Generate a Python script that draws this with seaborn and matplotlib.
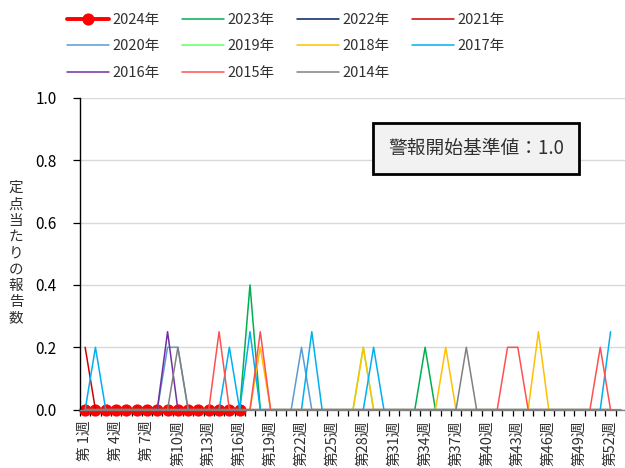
import matplotlib
matplotlib.use("Agg")
import matplotlib.pyplot as plt
from matplotlib.ticker import FixedLocator, FormatStrFormatter
import seaborn as sns
import pandas as pd

# Weekly reports per sentinel site, by year (weeks 1-53)
weeks = list(range(1, 54))
years = ["2024年", "2023年", "2022年", "2021年", "2020年", "2019年",
         "2018年", "2017年", "2016年", "2015年", "2014年"]

y2024 = [0, 0, 0, 0, 0, 0, 0, 0, 0, 0, 0, 0, 0,
         0, 0, 0]
y2023 = [0, 0, 0, 0, 0, 0, 0, 0, 0, 0, 0, 0, 0,
         0, 0, 0, 0.4, 0, 0, 0, 0, 0, 0, 0, 0, 0,
         0, 0, 0, 0, 0, 0, 0, 0.2, 0, 0, 0, 0, 0,
         0, 0, 0, 0, 0, 0, 0, 0, 0, 0, 0, 0, 0]
y2022 = [0, 0, 0, 0, 0, 0, 0, 0, 0, 0, 0, 0, 0,
         0, 0, 0, 0, 0, 0, 0, 0, 0, 0, 0, 0, 0,
         0, 0, 0, 0, 0, 0, 0, 0, 0, 0, 0, 0, 0,
         0, 0, 0, 0, 0, 0, 0, 0, 0, 0, 0, 0, 0]
y2021 = [0.2, 0, 0, 0, 0, 0, 0, 0, 0, 0, 0, 0, 0,
         0, 0, 0, 0, 0, 0, 0, 0, 0, 0, 0, 0, 0,
         0, 0, 0, 0, 0, 0, 0, 0, 0, 0, 0, 0, 0,
         0, 0, 0, 0, 0, 0, 0, 0, 0, 0, 0, 0, 0]
y2020 = [0, 0, 0, 0, 0, 0, 0, 0, 0.2, 0.2, 0, 0, 0,
         0, 0, 0, 0, 0, 0, 0, 0, 0.2, 0, 0, 0, 0,
         0, 0, 0, 0, 0, 0, 0, 0, 0, 0, 0, 0, 0,
         0, 0, 0, 0, 0, 0, 0, 0, 0, 0, 0, 0, 0,
         0]
y2019 = [0, 0, 0, 0, 0, 0, 0, 0, 0, 0, 0, 0, 0,
         0, 0, 0, 0, 0, 0, 0, 0, 0, 0, 0, 0, 0,
         0, 0.2, 0, 0, 0, 0, 0, 0, 0, 0, 0, 0, 0,
         0, 0, 0, 0, 0, 0, 0, 0, 0, 0, 0, 0, 0]
y2018 = [0, 0, 0, 0, 0, 0, 0, 0, 0, 0, 0, 0, 0,
         0, 0, 0, 0, 0.2, 0, 0, 0, 0, 0, 0, 0, 0,
         0, 0.2, 0, 0, 0, 0, 0, 0, 0, 0.2, 0, 0, 0,
         0, 0, 0, 0, 0, 0.25, 0, 0, 0, 0, 0, 0, 0]
y2017 = [0, 0.2, 0, 0, 0, 0, 0, 0, 0, 0, 0, 0, 0,
         0, 0.2, 0, 0.25, 0, 0, 0, 0, 0, 0.25, 0, 0, 0,
         0, 0, 0.2, 0, 0, 0, 0, 0, 0, 0, 0, 0, 0,
         0, 0, 0, 0, 0, 0, 0, 0, 0, 0, 0, 0, 0.25]
y2016 = [0, 0, 0, 0, 0, 0, 0, 0, 0.25, 0, 0, 0, 0,
         0, 0, 0, 0, 0, 0, 0, 0, 0, 0, 0, 0, 0,
         0, 0, 0, 0, 0, 0, 0, 0, 0, 0, 0, 0, 0,
         0, 0, 0, 0, 0, 0, 0, 0, 0, 0, 0, 0, 0]
y2015 = [0, 0, 0, 0, 0, 0, 0, 0, 0, 0, 0, 0, 0,
         0.25, 0, 0, 0, 0.25, 0, 0, 0, 0, 0, 0, 0, 0,
         0, 0, 0, 0, 0, 0, 0, 0, 0, 0, 0, 0, 0,
         0, 0, 0.2, 0.2, 0, 0, 0, 0, 0, 0, 0, 0.2, 0,
         0]
y2014 = [0, 0, 0, 0, 0, 0, 0, 0, 0, 0.2, 0, 0, 0,
         0, 0, 0, 0, 0, 0, 0, 0, 0, 0, 0, 0, 0,
         0, 0, 0, 0, 0, 0, 0, 0, 0, 0, 0, 0.2, 0,
         0, 0, 0, 0, 0, 0, 0, 0, 0, 0, 0, 0, 0]

series = [y2024, y2023, y2022, y2021, y2020, y2019,
          y2018, y2017, y2016, y2015, y2014]
colors = ["#FF0000", "#00B050", "#002060", "#D00000", "#5B9BD5", "#66FF66",
          "#FFC000", "#00B0F0", "#7030A0", "#FF5050", "#808080"]

tick_weeks = list(range(1, 53, 3))
tick_labels = [f"第 {w}週" if w < 10 else f"第{w}週" for w in tick_weeks]
y_ticks = [0.0, 0.2, 0.4, 0.6, 0.8, 1.0]
threshold_text = "警報開始基準値：1.0"
ylabel_text = "定点当たりの報告数"

sns.set_style("white")
plt.rcParams["font.family"] = ["Noto Sans CJK JP", "DejaVu Sans"]

fig = plt.figure(figsize=(6.25, 4.68), dpi=100)
ax = fig.add_axes([80 / 625, 58.3 / 468, 546 / 625, 312 / 468])

for i, (label, vals, col) in enumerate(zip(years, series, colors)):
    df = pd.DataFrame({"week": weeks[:len(vals)], "value": vals})
    if i == 0:
        sns.lineplot(data=df, x="week", y="value", ax=ax, color=col,
                     linewidth=2.8, marker="o", markersize=8,
                     markeredgecolor=col, label=label, zorder=2,
                     clip_on=False)
    else:
        sns.lineplot(data=df, x="week", y="value", ax=ax, color=col,
                     linewidth=1.1, label=label, zorder=3 + i)

ax.set_xlim(0.5, 53.5)
ax.set_ylim(0, 1.0)
ax.set_yticks(y_ticks)
ax.yaxis.set_major_formatter(FormatStrFormatter("%.1f"))
ax.set_xticks(tick_weeks)
ax.set_xticklabels(tick_labels, rotation=90, fontsize=10.5, color="#303030")
ax.xaxis.set_minor_locator(FixedLocator([w + 0.5 for w in range(0, 54)]))
ax.tick_params(axis="x", which="major", length=0, pad=8)
ax.tick_params(axis="x", which="minor", length=4, width=0.9, color="black",
               direction="out", bottom=True)
ax.tick_params(axis="y", length=5, width=0.9, color="black", direction="out",
               left=True, labelsize=11, labelcolor="black", pad=12)
ax.set_xlabel("")
ax.set_ylabel("")

ax.grid(axis="y", color="#D9D9D9", linewidth=1.0)
ax.grid(axis="x", visible=False)
ax.set_axisbelow(True)
for s in ["top", "right"]:
    ax.spines[s].set_visible(False)
ax.spines["left"].set_color("black")
ax.spines["left"].set_linewidth(1.0)
ax.spines["bottom"].set_color("#808080")
ax.spines["bottom"].set_linewidth(1.0)

# Vertical axis title, one upright character per line
char_step = 16.3
first_center = 188.0
for k, ch in enumerate(ylabel_text):
    fig.text(16 / 625, 1 - (first_center + k * char_step) / 468, ch,
             ha="center", va="center", fontsize=10.5, color="#303030")

ax.text((476 - 80) / 546, (409.7 - 148) / 312, threshold_text,
        transform=ax.transAxes, ha="center", va="center", fontsize=13.5,
        color="#303030", zorder=20,
        bbox=dict(boxstyle="square,pad=0.8", facecolor="#F2F2F2",
                  edgecolor="black", linewidth=2.0))

# Legend laid out row by row in four columns
handles, labels = ax.get_legend_handles_labels()
ax.get_legend().remove()
order = [0, 4, 8, 1, 5, 9, 2, 6, 10, 3, 7]
leg = fig.legend([handles[k] for k in order], [labels[k] for k in order],
                 ncol=4, loc="upper left",
                 bbox_to_anchor=(67 / 625, 1 - 13 / 468), frameon=False,
                 fontsize=10.5, handlelength=2.85, handletextpad=0.25,
                 columnspacing=1.55, labelspacing=0.85, borderpad=0,
                 borderaxespad=0)
for t in leg.get_texts():
    t.set_color("#303030")

fig.savefig("out.png", dpi=100)
